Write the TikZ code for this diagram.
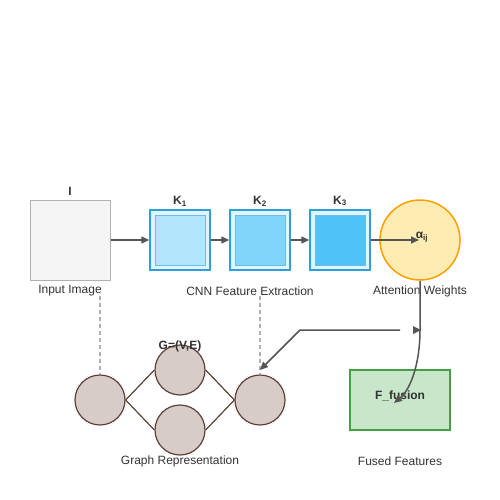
\documentclass[tikz,border=0pt]{standalone}
\usepackage{fontspec}
\setmainfont{Liberation Sans}
\usetikzlibrary{arrows.meta}
\definecolor{arr}{HTML}{555555}
\definecolor{inbg}{HTML}{F5F5F5}
\definecolor{inst}{HTML}{9E9E9E}
\definecolor{kst}{HTML}{2E9FDB}
\definecolor{kbg}{HTML}{E1F5FE}
\definecolor{ka}{HTML}{B3E5FC}
\definecolor{kb}{HTML}{81D4FA}
\definecolor{kc}{HTML}{4FC3F7}
\definecolor{attbg}{HTML}{FFECB3}
\definecolor{attst}{HTML}{FFA000}
\definecolor{gbg}{HTML}{D7CCC8}
\definecolor{gst}{HTML}{5D4037}
\definecolor{fbg}{HTML}{C8E6C9}
\definecolor{fst}{HTML}{43A047}
\definecolor{txt}{HTML}{333333}
\begin{document}
\begin{tikzpicture}[x=1pt,y=-1pt,
  every node/.style={font=\fontsize{12}{14}\selectfont, text=txt, inner sep=0pt},
  lbl/.style={font=\fontsize{12}{14}\selectfont},
  blbl/.style={font=\fontsize{12}{14}\selectfont\bfseries},
  conn/.style={draw=arr, line width=1.5pt, -{Triangle[length=8pt,width=7pt]}},
  dashl/.style={draw=inst!80, line width=1.2pt, dash pattern=on 4pt off 3pt},
  kouter/.style={draw=kst, fill=kbg, line width=1.5pt, minimum size=60pt},
  kinner/.style={draw=kst!70, line width=1pt, minimum size=50pt},
  gnode/.style={circle, draw=gst, fill=gbg, line width=1.2pt, minimum size=50pt},
  gedge/.style={draw=gst, line width=1.2pt}]
\useasboundingbox (0,0) rectangle (500,500);
% input
\node[draw=inst!80, fill=inbg, line width=1pt, minimum size=80pt] (in) at (70,240) {};
\node[blbl] (inl) at (70,191) {I};
\node[lbl] (inlab) at (70,291) {Input Image};
% CNN
\node[kouter] (k1) at (180,240) {};
\node[kinner, fill=ka] (k1i) at (180,240) {};
\node[kouter] (k2) at (260,240) {};
\node[kinner, fill=kb] (k2i) at (260,240) {};
\node[kouter] (k3) at (340,240) {};
\node[kinner, fill=kc] (k3i) at (340,240) {};
\node[blbl] (k1l) at (180,201) {K\textsubscript{1}};
\node[blbl] (k2l) at (260,201) {K\textsubscript{2}};
\node[blbl] (k3l) at (340,201) {K\textsubscript{3}};
\node[lbl] (cnnlab) at (250,291) {CNN Feature Extraction};
% attention
\node[circle, draw=attst, fill=attbg, line width=1.5pt, minimum size=80pt] (att) at (420,240) {};
\node[blbl] (attl) at (422,237) {α\textsubscript{ij}};
\node[lbl] (attlab) at (420,291) {Attention Weights};
\coordinate (attc) at (419,240);
% arrows top row
\draw[conn] (in.east) -- (k1.west);
\draw[conn] (k1.east) -- (k2.west);
\draw[conn] (k2.east) -- (k3.west);
\draw[conn] (k3.east) -- (attc);
% graph
\node[gnode] (g1) at (100,400) {};
\node[gnode] (g2) at (180,370) {};
\node[gnode] (g3) at (180,430) {};
\node[gnode] (g4) at (260,400) {};
\draw[gedge] (g1.east) -- (g2.west);
\draw[gedge] (g1.east) -- (g3.west);
\draw[gedge] (g2.east) -- (g4.west);
\draw[gedge] (g3.east) -- (g4.west);
\node[blbl] (gl) at (180,346) {G=(V,E)};
\node[lbl] (glab) at (180,461) {Graph Representation};
% fusion
\node[draw=fst, fill=fbg, line width=1.5pt, minimum width=100pt, minimum height=60pt] (fus) at (400,400) {};
\node[blbl] (fl) at (400,396) {F\_fusion};
\node[lbl] (flab) at (400,461) {Fused Features};
% dashed links
\coordinate (d1) at (100,296);
\coordinate (d2) at (260,296);
\draw[dashl] (d1) -- (g1.north);
\draw[dashl] (d2) -- (g4.north);
% attention to graph and fusion
\coordinate (h1) at (400,330);
\coordinate (h2) at (300,330);
\coordinate (h3) at (260,370);
\draw[conn] (h1) -- (h2) -- (h3);
\coordinate (v1) at (420,330);
\coordinate (fend) at (394,403);
\draw[conn] (att.south) -- (v1) .. controls (420,365) and (410,390) .. (fend);
\coordinate (mk) at (421,330);
\fill[arr] (mk) -- ++(-8,-4) -- ++(0,8) -- cycle;
\end{tikzpicture}
\end{document}
